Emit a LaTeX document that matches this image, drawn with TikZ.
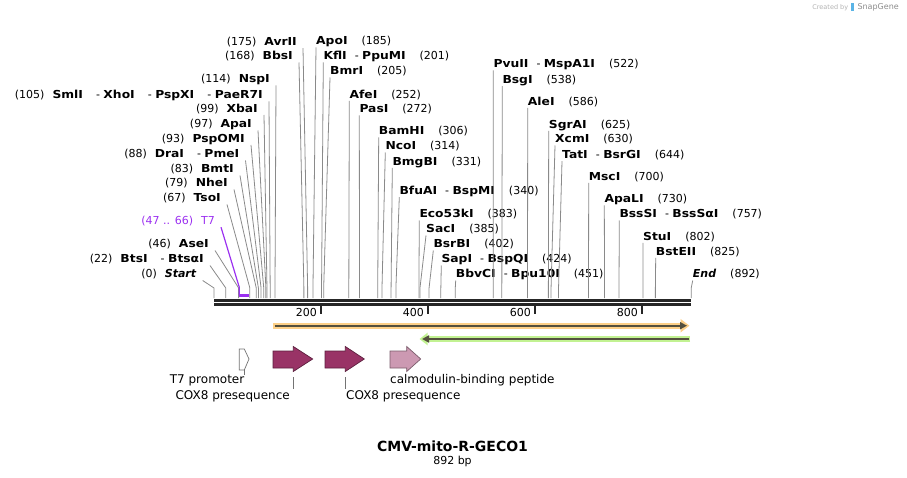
\documentclass[tikz,border=0pt]{standalone}
\usepackage{xcolor}
\usepackage{graphicx}
\usepackage{tikz}
\usepackage{fontspec}
\setmainfont{DejaVu Sans}
\usetikzlibrary{arrows.meta, positioning, calc}
\definecolor{sitegray}{HTML}{8A8A8A}
\definecolor{t7purple}{HTML}{9B30F0}
\definecolor{featorange}{HTML}{FDD088}
\definecolor{featgreen}{HTML}{C2F292}
\definecolor{featdark}{HTML}{54503E}
\definecolor{coxred}{HTML}{993366}
\definecolor{cbppink}{HTML}{CC99B2}
\definecolor{snapblue}{HTML}{5AB4E6}
\newcommand{\gap}{\hspace{8pt}}
\newcommand{\lgap}{\hspace{13pt}}
\newcommand{\rgap}{\hspace{14pt}}
\newcommand{\nm}[1]{\scalebox{1.12}[1]{\textbf{#1}}}

\begin{document}
\begin{tikzpicture}[x=1pt, y=-1pt,
  lsite/.style={anchor=east, inner sep=0pt, text height=8pt, text depth=2.5pt,
    font=\fontsize{11}{13}\selectfont},
  rsite/.style={anchor=west, inner sep=0pt, text height=8pt, text depth=2.5pt,
    font=\fontsize{11}{13}\selectfont},
  leader/.style={draw=sitegray, line width=0.8pt},
  seqline/.style={line width=2.7pt, black!85},
  glow/.style={line width=6pt, color=#1},
  featline/.style={line width=2pt, featdark},
  feat/.style={fill=#1, draw=#1!60!black, line width=0.7pt},
  flabel/.style={inner sep=0pt, font=\fontsize{12}{14}\selectfont}
]
  \useasboundingbox (0,0) rectangle (907,478);

  % Sites left of the lines
  \node[lsite] (avr) at (297,42.7) {(175)\gap\nm{AvrII}};
  \node[lsite] (bbs) at (293,57) {(168)\gap\nm{BbsI}};
  \node[lsite] (nsp) at (270,80) {(114)\gap\nm{NspI}};
  \node[lsite] (sml) at (263,96) {(105)\gap\nm{SmlI}\lgap- \nm{XhoI}\lgap- \nm{PspXI}\lgap- \nm{PaeR7I}};
  \node[lsite] (xba) at (258,109.5) {(99)\gap\nm{XbaI}};
  \node[lsite] (apa) at (252,125) {(97)\gap\nm{ApaI}};
  \node[lsite] (pspo) at (245,139.5) {(93)\gap\nm{PspOMI}};
  \node[lsite] (dra) at (239.5,155) {(88)\gap\nm{DraI}\lgap- \nm{PmeI}};
  \node[lsite] (bmt) at (234,170) {(83)\gap\nm{BmtI}};
  \node[lsite] (nhe) at (228,184) {(79)\gap\nm{NheI}};
  \node[lsite] (tso) at (221,199) {(67)\gap\nm{TsoI}};
  \node[lsite, text=t7purple] (t7) at (215,221.7) {(47 .. 66)\gap T7};
  \node[lsite] (ase) at (209,245) {(46)\gap\nm{AseI}};
  \node[lsite] (bts) at (204,260) {(22)\gap\nm{BtsI}\lgap- \nm{BtsαI}};
  \node[lsite] (start) at (196.7,275) {(0)\gap\textbf{\textit{Start}}};

  % Sites right of the lines
  \node[rsite] (apo) at (316,42) {\nm{ApoI}\rgap(185)};
  \node[rsite] (kfl) at (323.3,57) {\nm{KflI}\gap- \nm{PpuMI}\rgap(201)};
  \node[rsite] (bmr) at (330,72) {\nm{BmrI}\rgap(205)};
  \node[rsite] (afe) at (349.3,95.3) {\nm{AfeI}\rgap(252)};
  \node[rsite] (pas) at (359.3,110) {\nm{PasI}\rgap(272)};
  \node[rsite] (bam) at (378.7,132) {\nm{BamHI}\rgap(306)};
  \node[rsite] (nco) at (385.3,147) {\nm{NcoI}\rgap(314)};
  \node[rsite] (bmg) at (392.3,162.3) {\nm{BmgBI}\rgap(331)};
  \node[rsite] (bfu) at (399.3,191.7) {\nm{BfuAI}\gap- \nm{BspMI}\rgap(340)};
  \node[rsite] (eco) at (419.3,215) {\nm{Eco53kI}\rgap(383)};
  \node[rsite] (sac) at (426,230) {\nm{SacI}\rgap(385)};
  \node[rsite] (bsr) at (433.3,245) {\nm{BsrBI}\rgap(402)};
  \node[rsite] (sap) at (441.3,260) {\nm{SapI}\gap- \nm{BspQI}\rgap(424)};
  \node[rsite] (bbv) at (455.7,275) {\nm{BbvCI}\gap- \nm{Bpu10I}\rgap(451)};
  \node[rsite] (pvu) at (493.3,65) {\nm{PvuII}\gap- \nm{MspA1I}\rgap(522)};
  \node[rsite] (bsg) at (502.3,80.7) {\nm{BsgI}\rgap(538)};
  \node[rsite] (ale) at (527.7,102.3) {\nm{AleI}\rgap(586)};
  \node[rsite] (sgr) at (548.7,125.3) {\nm{SgrAI}\rgap(625)};
  \node[rsite] (xcm) at (555,140) {\nm{XcmI}\rgap(630)};
  \node[rsite] (tat) at (562,155.7) {\nm{TatI}\gap- \nm{BsrGI}\rgap(644)};
  \node[rsite] (msc) at (588.7,177.3) {\nm{MscI}\rgap(700)};
  \node[rsite] (apl) at (604.3,200) {\nm{ApaLI}\rgap(730)};
  \node[rsite] (bss) at (619.3,215) {\nm{BssSI}\gap- \nm{BssSαI}\rgap(757)};
  \node[rsite] (stu) at (643,237.3) {\nm{StuI}\rgap(802)};
  \node[rsite] (bst) at (655.7,252.3) {\nm{BstEII}\rgap(825)};
  \node[rsite] (endm) at (692.7,275) {\textbf{\textit{End}}\rgap(892)};

  % Leader lines
  \foreach \lbl/\bp in {avr/175, bbs/168, nsp/114, sml/105, xba/99, apa/97, pspo/93,
      dra/88, bmt/83, nhe/79, tso/67, ase/46, bts/22, start/0} {
    \coordinate (\lbl-k) at ({214+0.535*\bp},288);
    \coordinate (\lbl-s) at ({214+0.535*\bp},298);
    \draw[leader] ($(\lbl.east)+(6,5.5)$) -- (\lbl-k) -- (\lbl-s);
  }
  \foreach \lbl/\bp in {apo/185, kfl/201, bmr/205, afe/252, pas/272, bam/306, nco/314,
      bmg/331, bfu/340, eco/383, sac/385, bsr/402, sap/424, bbv/451, pvu/522, bsg/538,
      ale/586, sgr/625, xcm/630, tat/644, msc/700, apl/730, bss/757, stu/802, bst/825,
      endm/892} {
    \coordinate (\lbl-k) at ({214+0.535*\bp},288);
    \coordinate (\lbl-s) at ({214+0.535*\bp},298);
    \draw[leader] ($(\lbl.west)+(0,5.5)$) -- (\lbl-k) -- (\lbl-s);
  }

  % T7 primer site
  \coordinate (t7-k) at (239.2,287);
  \coordinate (t7-s) at (239.2,295);
  \coordinate (t7-a) at (239,295.7);
  \coordinate (t7-b) at (249.3,295.7);
  \draw[t7purple, line width=1.2pt] ($(t7.east)+(6,5.5)$) -- (t7-k) -- (t7-s);
  \draw[t7purple, line width=2.5pt] (t7-a) -- (t7-b);

  % Sequence
  \draw[seqline] (214,300.3) -- (691.2,300.3);
  \draw[seqline] (214,304.3) -- (691.2,304.3);
  \foreach \t in {200,400,600,800} {
    \draw[line width=1.6pt, black!85] ({214+0.535*\t},305) -- ({214+0.535*\t},313.5);
    \node[anchor=east, inner sep=0pt, font=\fontsize{11}{13}\selectfont] (tick\t) at ({210+0.535*\t},312) {\t};
  }

  % Features along the sequence
  \coordinate (ora-a) at (273,325.7);
  \coordinate (ora-b) at (689.5,325.7);
  \coordinate (ora-c) at (274.5,325.7);
  \coordinate (ora-d) at (687,325.7);
  \draw[glow=featorange, -{Triangle[length=9pt,width=13pt]}] (ora-a) -- (ora-b);
  \draw[featline, -{Triangle[length=7pt,width=7pt]}] (ora-c) -- (ora-d);
  \coordinate (grn-a) at (690,339);
  \coordinate (grn-b) at (419.5,339);
  \coordinate (grn-c) at (688.5,339);
  \coordinate (grn-d) at (422,339);
  \draw[glow=featgreen, -{Triangle[length=8pt,width=12pt]}] (grn-a) -- (grn-b);
  \draw[featline, -{Triangle[length=7pt,width=7pt]}] (grn-c) -- (grn-d);

  % T7 promoter
  \draw[fill=white, draw=black!55, line width=0.7pt]
    (239.3,349) -- (244.3,349) -- (249,359) -- (244.3,370) -- (239.3,370) -- cycle;
  \draw[black!55, line width=0.7pt] (244.3,370) -- (244.3,375);
  % COX8 presequences
  \draw[feat=coxred] (273,351) -- (293.3,351) -- (293.3,346.5) -- (312.7,359)
    -- (293.3,371.5) -- (293.3,368) -- (273,368) -- cycle;
  \draw[feat=coxred] (325,351) -- (345.3,351) -- (345.3,346.5) -- (364.3,359)
    -- (345.3,371.5) -- (345.3,368) -- (325,368) -- cycle;
  % calmodulin-binding peptide
  \draw[feat=cbppink] (390,351) -- (406.7,351) -- (406.7,346.5) -- (420.7,359)
    -- (406.7,371.5) -- (406.7,368) -- (390,368) -- cycle;

  \node[flabel, anchor=east] (t7p) at (244.5,380.5) {T7 promoter};
  \node[flabel, anchor=east] (cox1) at (290,396.5) {COX8 presequence};
  \node[flabel, anchor=west] (cox2) at (346,396.5) {COX8 presequence};
  \node[flabel, anchor=west] (cbp) at (390,380.5) {calmodulin-binding peptide};
  \coordinate (cox1-t) at (293.3,377);
  \coordinate (cox1-b) at (293.3,389);
  \coordinate (cox2-t) at (345.3,377);
  \coordinate (cox2-b) at (345.3,389);
  \draw[black!55, line width=0.7pt] (cox1-t) -- (cox1-b);
  \draw[black!55, line width=0.7pt] (cox2-t) -- (cox2-b);

  % Title
  \node[font=\fontsize{14}{16}\selectfont\bfseries] (title) at (452.5,446.5) {CMV-mito-R-GECO1};
  \node[font=\fontsize{11}{13}\selectfont, below=0pt of title, inner sep=0pt] (len) {892 bp};

  % Watermark
  \node[anchor=east, inner sep=0pt, font=\fontsize{8}{9}\selectfont, text=black!45] (snap) at (899,7.5) {SnapGene};
  \fill[snapblue] ($(snap.west)+(-6,-4)$) rectangle ($(snap.west)+(-3,4)$);
  \node[anchor=east, inner sep=0pt, font=\fontsize{6.5}{8}\selectfont, text=black!30] (created) at ($(snap.west)+(-9,0)$) {Created by};
\end{tikzpicture}
\end{document}
